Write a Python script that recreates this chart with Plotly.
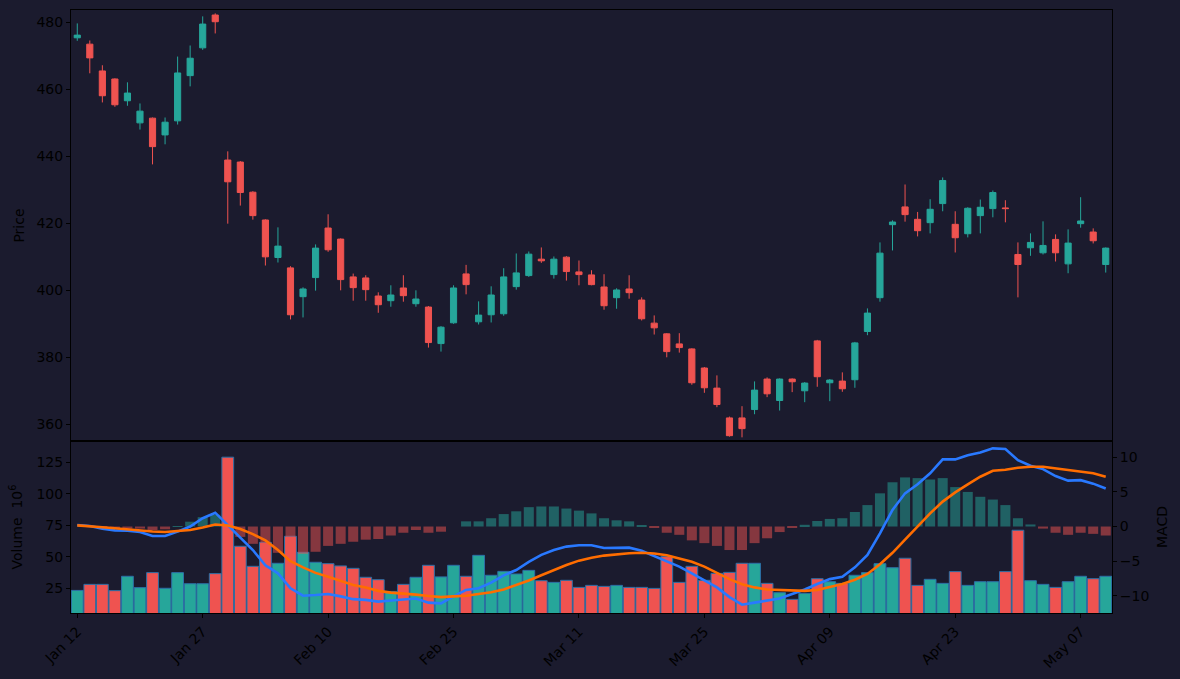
import plotly.graph_objects as go

# ---------------- data ----------------
opens = [475.4, 473.5, 465.5, 463.1, 456.6, 450.0, 451.4, 446.4, 450.6, 464.1,
         472.4, 482.2, 438.9, 438.3, 429.3, 421.0, 409.8, 406.7, 398.1, 403.8,
         418.6, 415.3, 404.0, 403.7, 398.3, 396.9, 400.7, 396.0, 395.0, 384.1,
         390.3, 404.9, 390.6, 392.7, 393.0, 401.1, 404.4, 409.3, 404.7, 409.9,
         405.5, 404.6, 401.0, 397.8, 400.4, 397.1, 390.2, 387.0, 384.0, 382.5,
         376.8, 370.8, 361.9, 361.9, 364.4, 373.5, 367.1, 373.5, 370.0, 384.9,
         372.4, 372.9, 373.3, 387.7, 397.8, 419.6, 424.9, 421.2, 420.2, 425.9,
         419.7, 416.9, 422.3, 424.4, 424.6, 410.7, 412.7, 411.2, 415.2, 407.9,
         419.9, 417.4, 407.7]
highs = [479.7, 474.6, 467.2, 463.3, 462.1, 455.8, 451.6, 451.6, 469.8, 473.1,
         481.8, 482.7, 441.5, 438.6, 429.6, 421.2, 418.8, 407.2, 400.9, 413.7,
         422.7, 415.5, 405.0, 404.5, 399.4, 401.5, 404.5, 400.0, 395.3, 389.3,
         401.5, 407.6, 396.7, 401.2, 406.6, 411.0, 411.6, 412.8, 410.1, 410.2,
         408.9, 406.0, 404.8, 400.6, 404.5, 397.9, 392.5, 387.2, 387.2, 382.7,
         377.1, 374.6, 362.3, 365.4, 372.8, 374.0, 373.7, 373.7, 372.6, 385.2,
         373.5, 375.5, 384.6, 394.6, 414.3, 420.9, 431.6, 423.4, 427.2, 433.7,
         423.6, 424.8, 427.1, 429.8, 426.9, 414.3, 417.0, 420.6, 416.7, 418.2,
         427.8, 418.5, 412.8]
lows = [474.5, 464.8, 456.1, 454.8, 455.1, 448.0, 437.6, 443.6, 449.5, 460.9,
        471.8, 476.7, 419.9, 425.3, 421.1, 407.4, 408.3, 391.3, 391.9, 399.9,
        411.5, 400.0, 396.9, 396.9, 393.3, 395.1, 396.6, 395.1, 382.9, 381.7,
        390.0, 398.8, 389.8, 390.4, 392.4, 400.2, 404.0, 408.2, 403.5, 402.9,
        401.5, 401.5, 394.2, 394.5, 397.5, 391.0, 386.8, 380.0, 381.4, 371.8,
        369.4, 365.1, 356.3, 356.1, 363.0, 368.1, 364.1, 369.6, 366.6, 371.2,
        366.9, 369.7, 370.9, 386.6, 396.6, 411.9, 420.5, 416.1, 417.0, 423.6,
        411.3, 415.8, 417.0, 421.8, 420.3, 397.9, 410.3, 410.7, 408.6, 405.1,
        418.7, 414.0, 405.3]
closes = [476.2, 469.4, 458.1, 455.4, 458.9, 453.5, 442.9, 450.2, 464.9, 469.3,
          479.5, 480.2, 432.4, 429.2, 422.3, 410.0, 413.2, 392.7, 400.4, 412.6,
          412.1, 403.2, 400.8, 400.2, 395.7, 398.6, 398.4, 397.4, 384.4, 389.0,
          400.7, 401.7, 392.6, 398.6, 404.0, 405.2, 410.8, 408.8, 409.3, 405.6,
          404.7, 401.7, 395.4, 400.1, 399.3, 391.5, 388.8, 381.7, 382.9, 372.4,
          370.9, 365.9, 356.6, 358.7, 370.2, 369.1, 373.5, 372.7, 372.3, 374.2,
          373.2, 370.6, 384.3, 393.2, 411.1, 420.4, 422.6, 417.8, 424.2, 432.8,
          415.7, 424.5, 424.8, 429.2, 424.4, 407.7, 414.3, 413.4, 411.2, 414.1,
          420.7, 414.8, 412.6]
volume_m = [23.3, 28.1, 28.1, 23.1, 34.5, 25.5, 37.4, 25.0, 37.4, 28.6,
            28.6, 36.6, 128.9, 58.3, 42.4, 61.4, 44.8, 66.2, 53.5, 45.6,
            44.5, 42.7, 40.8, 33.7, 31.8, 22.5, 28.1, 33.7, 43.2, 34.0,
            43.2, 34.5, 51.1, 35.3, 38.4, 36.3, 39.2, 31.0, 29.7, 31.3,
            25.7, 27.3, 26.5, 27.3, 25.7, 25.7, 24.9, 50.1, 29.7, 42.4,
            31.3, 36.8, 37.6, 44.8, 44.8, 28.9, 21.5, 16.2, 21.0, 32.6,
            30.2, 28.9, 35.3, 37.4, 44.5, 41.3, 48.8, 27.3, 32.1, 28.9,
            38.2, 27.3, 30.2, 30.2, 38.2, 71.0, 31.0, 28.1, 25.7, 30.2,
            34.5, 32.6, 34.5]
macd_line = [0.2, 0.08, -0.3, -0.55, -0.6, -0.8, -1.37, -1.37, -0.74, 0.0,
             1.2, 2.0, 0.2, -1.56, -3.4, -5.6, -6.76, -8.93, -10.0, -9.9,
             -9.75, -10.1, -10.5, -10.6, -10.85, -10.7, -10.6, -10.4, -11.0, -11.1,
             -10.1, -9.17, -8.93, -8.11, -7.05, -6.28, -5.1, -4.1, -3.4, -2.9,
             -2.7, -2.7, -3.1, -3.05, -3.05, -3.5, -4.26, -5.1, -5.8, -6.76,
             -7.8, -8.8, -10.2, -11.3, -11.0, -10.7, -10.4, -9.75, -9.1, -8.3,
             -7.6, -7.25, -5.9, -4.1, -0.98, 2.4, 4.8, 6.1, 7.7, 9.7,
             9.7, 10.3, 10.7, 11.3, 11.2, 9.6, 8.8, 8.3, 7.3, 6.63,
             6.7, 6.2, 5.5]
signal_line = [0.17, 0.08, -0.1, -0.24, -0.4, -0.6, -0.72, -0.8, -0.67, -0.5,
               -0.15, 0.3, 0.15, -0.35, -1.1, -2.0, -3.4, -5.0, -5.9, -6.7,
               -7.25, -7.8, -8.45, -8.8, -9.3, -9.55, -9.65, -9.85, -10.04, -10.2,
               -10.1, -10.0, -9.75, -9.5, -9.1, -8.5, -7.8, -7.05, -6.28, -5.56,
               -4.93, -4.5, -4.2, -4.0, -3.87, -3.8, -3.9, -4.16, -4.6, -5.1,
               -5.8, -6.7, -7.6, -8.35, -8.8, -9.1, -9.17, -9.3, -9.3, -9.17,
               -8.7, -8.3, -7.7, -6.86, -5.46, -3.8, -1.9, 0.0, 1.9, 3.6,
               4.94, 6.1, 7.2, 8.07, 8.2, 8.5, 8.65, 8.65, 8.4, 8.17,
               7.93, 7.7, 7.2]
macd_hist = [0.0, 0.0, -0.2, -0.3, -0.3, -0.3, -0.5, -0.4, 0.05, 0.7,
             1.35, 1.7, -0.1, -1.5, -2.5, -3.8, -3.8, -3.9, -3.95, -3.65,
             -2.8, -2.5, -2.2, -1.9, -1.8, -1.3, -0.9, -0.5, -0.9, -0.75,
             0.0, 0.75, 0.75, 1.2, 1.8, 2.2, 2.8, 2.9, 2.9, 2.6,
             2.3, 1.9, 1.2, 0.9, 0.75, 0.2, -0.2, -0.9, -1.2, -2.0,
             -2.4, -2.8, -3.4, -3.4, -2.4, -1.7, -0.8, -0.1, 0.25, 0.8,
             1.1, 1.2, 2.1, 3.1, 4.8, 6.4, 7.1, 7.0, 6.8, 7.0,
             5.7, 5.0, 4.3, 3.9, 3.1, 1.2, 0.3, -0.3, -0.9, -1.2,
             -0.9, -1.06, -1.3]
tick_labels = ["Jan 12", "Jan 27", "Feb 10", "Feb 25", "Mar 11",
               "Mar 25", "Apr 09", "Apr 23", "May 07"]

# ---------------- styling ----------------
UP = "#26a69a"
DOWN = "#ef5350"
BG = "#1b1b2e"
TXT = "#000000"
FONT = "DejaVu Sans"
FS = 14

idx = list(range(len(closes)))
tick_pos = idx[::10]
vol_colors = [UP if c >= o else DOWN for o, c in zip(opens, closes)]
hist_colors = [UP if h >= 0 else DOWN for h in macd_hist]

fig = go.Figure()

fig.add_trace(go.Candlestick(
    x=idx, open=opens, high=highs, low=lows, close=closes,
    increasing=dict(line=dict(color=UP, width=1), fillcolor=UP),
    decreasing=dict(line=dict(color=DOWN, width=1), fillcolor=DOWN),
    whiskerwidth=0, showlegend=False, xaxis="x", yaxis="y"))

fig.add_trace(go.Bar(
    x=idx, y=volume_m, width=0.94,
    marker=dict(color=vol_colors, line=dict(color="#2c6fa6", width=1)),
    showlegend=False, xaxis="x2", yaxis="y2"))

fig.add_trace(go.Bar(
    x=idx, y=macd_hist, width=0.8,
    marker=dict(color=hist_colors, line=dict(width=0)), opacity=0.5,
    showlegend=False, xaxis="x2", yaxis="y3"))

fig.add_trace(go.Scatter(
    x=idx, y=macd_line, mode="lines", line=dict(color="#2979ff", width=2.6),
    showlegend=False, xaxis="x2", yaxis="y3"))
fig.add_trace(go.Scatter(
    x=idx, y=signal_line, mode="lines", line=dict(color="#ff6d00", width=2.6),
    showlegend=False, xaxis="x2", yaxis="y3"))

axis_common = dict(showgrid=False, zeroline=False, showline=True, linecolor="black",
                   linewidth=1, ticks="outside", ticklen=4, tickcolor="black",
                   automargin=False,
                   tickfont=dict(color=TXT, size=FS, family=FONT))
title_font = dict(color=TXT, size=FS, family=FONT)

split = 0.2852
fig.update_layout(
    width=1180, height=679,
    margin=dict(l=71, r=68, t=10, b=66),
    paper_bgcolor=BG, plot_bgcolor=BG,
    font=dict(family=FONT, color=TXT, size=FS),
    barmode="overlay",
    xaxis=dict(axis_common, domain=[0, 1], range=[-0.5, 82.5], anchor="y",
               showticklabels=False, ticks="", mirror=True,
               rangeslider=dict(visible=False), matches="x2"),
    yaxis=dict(axis_common, domain=[split, 1], range=[355.0, 483.7], anchor="x",
               tickvals=[360, 380, 400, 420, 440, 460, 480], mirror=True,
               title=dict(text="Price", font=title_font, standoff=8)),
    xaxis2=dict(axis_common, domain=[0, 1], range=[-0.5, 82.5], anchor="y2",
                tickvals=tick_pos, ticktext=tick_labels, tickangle=-45, mirror=True),
    yaxis2=dict(axis_common, domain=[0, split], range=[5.4, 141.7], anchor="x2",
                tickvals=[25, 50, 75, 100, 125],
                title=dict(text="Volume  10<sup>6</sup>", font=title_font, standoff=10)),
    yaxis3=dict(axis_common, overlaying="y2", side="right", anchor="x2",
                range=[-12.5, 12.36], tickvals=[-10, -5, 0, 5, 10],
                ticktext=["\u221210", "\u22125", "0", "5", "10"],
                title=dict(text="MACD", font=title_font, standoff=8)),
)

fig.write_html("out.html")
